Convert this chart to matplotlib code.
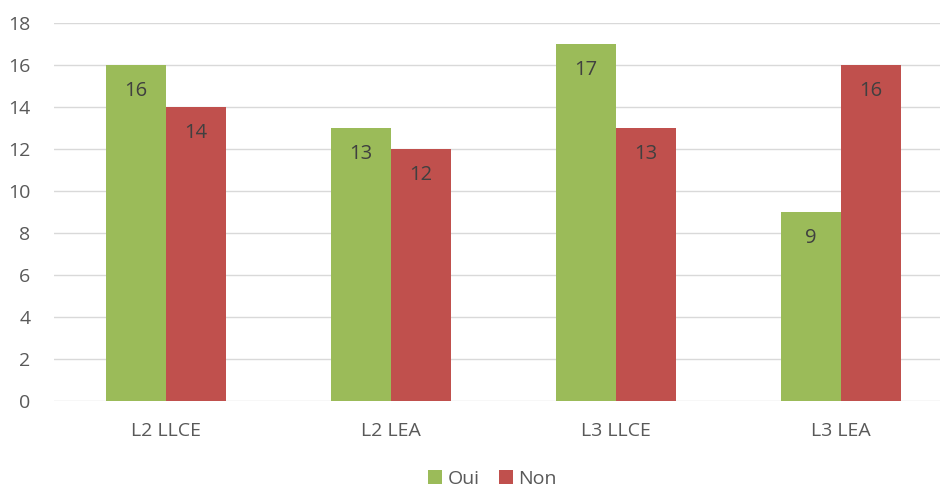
import matplotlib
matplotlib.use("Agg")
import matplotlib.pyplot as plt
import numpy as np

categories = ["L2 LLCE", "L2 LEA", "L3 LLCE", "L3 LEA"]
oui = [16, 13, 17, 9]
non = [14, 12, 13, 16]

GREEN = "#9BBB59"
RED = "#C0504D"
TEXT = "#595959"

plt.rcParams["font.family"] = ["Open Sans", "DejaVu Sans"]

fig = plt.figure(figsize=(9.41, 4.87), dpi=100)
ax = fig.add_axes([0.0574, 0.1766, 0.9415, 0.7762])

x = np.arange(len(categories))
w = 0.267
b1 = ax.bar(x - w / 2, oui, w, color=GREEN, label="Oui", zorder=2)
b2 = ax.bar(x + w / 2, non, w, color=RED, label="Non", zorder=2)

# value labels sit just under the top of each bar
for bars in (b1, b2):
    for rect in bars:
        h = rect.get_height()
        ax.annotate(f"{h:g}", (rect.get_x() + rect.get_width() / 2, h),
                    xytext=(0, -26), textcoords="offset pixels",
                    ha="center", va="center", fontsize=14.5, color="#404040")

ax.set_xlim(-0.498, 3.44)
ax.set_ylim(0, 18)
ax.set_yticks(range(0, 19, 2))
ax.set_xticks(x)
ax.set_xticklabels(categories)
ax.grid(axis="y", color="#D9D9D9", lw=1, zorder=0)
for s in ax.spines.values():
    s.set_visible(False)
ax.tick_params(length=0, labelsize=14, colors=TEXT)
ax.tick_params(axis="x", pad=15)
ax.tick_params(axis="y", pad=17)

ax.legend(loc="upper center", bbox_to_anchor=(0.495, -0.182), ncol=2, frameon=False,
          fontsize=14, labelcolor=TEXT, handlelength=0.7, handleheight=0.7,
          handletextpad=0.3, columnspacing=1.0, borderaxespad=0.0, borderpad=0.0)

fig.savefig("out.png", dpi=100)
